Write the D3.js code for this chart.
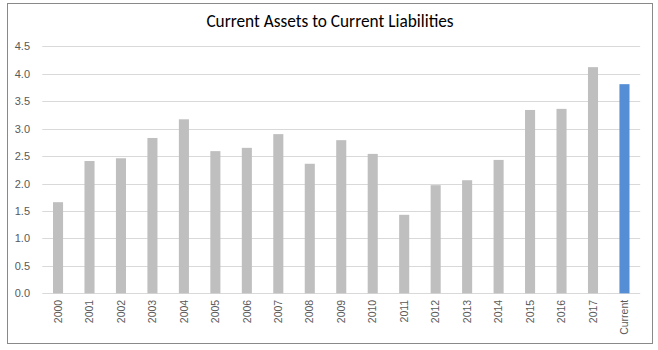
<!DOCTYPE html>
<html><head><meta charset="utf-8">
<script src="https://cdn.jsdelivr.net/npm/d3@7"></script>
<style>body{margin:0;background:#fff}svg{display:block}</style>
</head><body><svg id="c" width="658" height="350"></svg>
<script>
const categories = ["2000","2001","2002","2003","2004","2005","2006","2007","2008","2009","2010","2011","2012","2013","2014","2015","2016","2017","Current"];
const values = [1.66,2.41,2.46,2.83,3.17,2.59,2.65,2.90,2.36,2.79,2.54,1.43,1.97,2.06,2.43,3.34,3.36,4.12,3.81];
const yTicks = [0,0.5,1,1.5,2,2.5,3,3.5,4,4.5];
const title = "Current Assets to Current Liabilities";

const axisFont = "'Liberation Sans', Arial, sans-serif";
const svg = d3.select("#c");
svg.append("rect").attr("x",7.5).attr("y",3.5).attr("width",645).attr("height",340)
  .attr("fill","#fff").attr("stroke","#898989").attr("stroke-width",1);

const x = d3.scaleBand().domain(categories).range([42.3,640.2]).paddingInner(0.68).paddingOuter(0.34);
const y = d3.scaleLinear().domain([0,4.5]).range([293.3,46.3]);

svg.append("text").attr("x",330).attr("y",27).attr("text-anchor","middle")
  .attr("font-family","Carlito, Lato, 'Open Sans', sans-serif").attr("font-size",17.3).attr("fill","#000").text(title);

const grid = svg.append("g");
grid.selectAll("line").data(yTicks).join("line")
  .attr("x1",42.3).attr("x2",640.2).attr("y1",d=>Math.round(y(d))+0.5).attr("y2",d=>Math.round(y(d))+0.5)
  .attr("stroke","#d9d9d9").attr("stroke-width",1);

const yAxis = svg.append("g").attr("transform","translate(42,0)")
  .call(d3.axisLeft(y).tickValues(yTicks).tickFormat(d3.format(".1f")).tickSize(0).tickPadding(12));
yAxis.select(".domain").remove();
yAxis.selectAll("text").attr("font-family",axisFont).attr("font-size",11).attr("fill","#595959");

svg.append("g").selectAll("rect").data(values).join("rect")
  .attr("x",(d,i)=>x(categories[i])).attr("width",x.bandwidth())
  .attr("y",d=>y(d)).attr("height",d=>y(0)-y(d))
  .attr("fill",(d,i)=>categories[i]==="Current" ? "#558ed5" : "#bfbfbf");

const xAxis = svg.append("g").attr("transform","translate(0,293.3)")
  .call(d3.axisBottom(x).tickSize(0).tickPadding(0));
xAxis.select(".domain").remove();
xAxis.selectAll("text")
  .attr("font-family",axisFont).attr("font-size",10.5).attr("fill","#595959")
  .attr("transform","rotate(-90)").attr("text-anchor","end").attr("dy","0.35em").attr("x",-6.5).attr("y",0);
</script></body></html>
